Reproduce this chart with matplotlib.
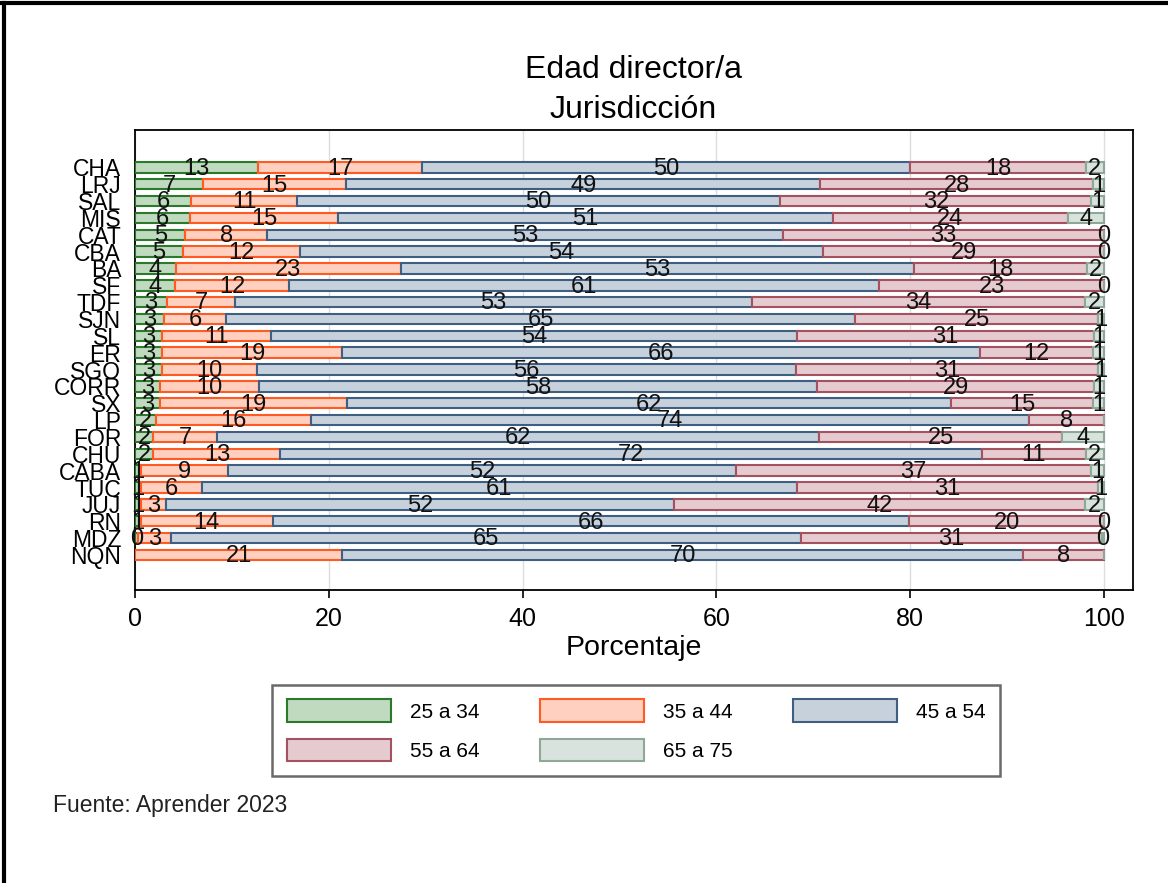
import numpy as np
import matplotlib
matplotlib.use("Agg")
import matplotlib.pyplot as plt
from matplotlib.patches import Patch
from matplotlib.lines import Line2D

plt.rcParams['font.family'] = ['Liberation Sans', 'DejaVu Sans']

nan = np.nan

jurisdicciones = ['CHA', 'LRJ', 'SAL', 'MIS', 'CAT', 'CBA', 'BA', 'SF', 'TDF', 'SJN',
                  'SL', 'ER', 'SGO', 'CORR', 'SX', 'LP', 'FOR', 'CHU', 'CABA', 'TUC',
                  'JUJ', 'RN', 'MDZ', 'NQN']

grupos = ['25 a 34', '35 a 44', '45 a 54', '55 a 64', '65 a 75']

e25_34 = [12.7, 7.0, 5.8, 5.7, 5.2, 4.9, 4.2, 4.1, 3.3, 3.0, 2.8, 2.8, 2.8, 2.6,
          2.6, 2.2, 1.9, 1.9, 0.6, 0.6, 0.6, 0.6, 0.3, nan]
e35_44 = [16.9, 14.8, 10.9, 15.2, 8.4, 12.1, 23.2, 11.8, 7.0, 6.4, 11.2, 18.6, 9.8,
          10.2, 19.3, 16.0, 6.6, 13.1, 9.0, 6.3, 2.6, 13.6, 3.4, 21.4]
e45_54 = [50.4, 48.9, 49.9, 51.1, 53.3, 54.0, 53.0, 60.9, 53.4, 64.9, 54.3, 65.8,
          55.6, 57.6, 62.3, 74.1, 62.1, 72.4, 52.4, 61.4, 52.4, 65.7, 65.0, 70.2]
e55_64 = [18.1, 28.2, 32.1, 24.3, 33.1, 29.0, 17.8, 23.2, 34.3, 25.1, 30.7, 11.7,
          31.2, 28.6, 14.7, 7.7, 25.1, 10.7, 36.7, 31.1, 42.4, 20.1, 31.1, 8.4]
e65_75 = [1.9, 1.1, 1.3, 3.7, 0.0, 0.0, 1.8, 0.0, 2.0, 0.6, 1.0, 1.1, 0.6, 1.0,
          1.1, nan, 4.3, 1.9, 1.3, 0.6, 2.0, 0.0, 0.2, nan]

rellenos = ['#c0dac0', '#ffd0bf', '#c7d1dc', '#e5cbd0', '#d9e3de']
bordes = ['#2b7a2b', '#ff5a22', '#3e5e82', '#a55260', '#8ea897']


def main():
    series = [e25_34, e35_44, e45_54, e55_64, e65_75]
    y = np.arange(len(jurisdicciones))

    fig = plt.figure(figsize=(11.68, 8.83), dpi=100)
    ax = fig.add_axes([0.1156, 0.332, 0.8545, 0.5205])

    left = np.zeros(len(jurisdicciones))
    for vals, fc, ec in zip(series, rellenos, bordes):
        vals = np.array(vals, dtype=float)
        w = np.nan_to_num(vals)
        ax.barh(y, w, left=left, height=0.62, color=fc, edgecolor=ec,
                linewidth=1.5, zorder=3)
        # etiquetas centradas en cada segmento
        for yi, v, l in zip(y, vals, left):
            if np.isnan(v):
                continue
            ax.text(l + v / 2, yi + 0.08, f"{v:.0f}", ha='center', va='center',
                    fontsize=17, color='#111111', zorder=4)
        left = left + w

    ax.set_yticks(y)
    ax.set_yticklabels(jurisdicciones, fontsize=16.5)
    ax.set_ylim(len(jurisdicciones) - 1 + 2.07, -2.2)
    ax.tick_params(axis='y', length=0, pad=10)

    ax.set_xlim(0, 103)
    ax.set_xticks(range(0, 101, 20))
    ax.tick_params(axis='x', labelsize=18, length=6, width=1.2, pad=6)
    ax.set_xlabel("Porcentaje", fontsize=20.5, labelpad=3)
    ax.grid(axis='x', color='#dddddd', linewidth=1, zorder=0)
    for s in ax.spines.values():
        s.set_linewidth(1.3)

    fig.text(0.5425, 0.921, "Edad director/a", ha='center', va='center', fontsize=23)
    fig.text(0.5425, 0.875, "Jurisdicción", ha='center', va='center', fontsize=23)

    handles = [Patch(facecolor=fc, edgecolor=ec, linewidth=1.5)
               for fc, ec in zip(rellenos, bordes)]
    orden = [0, 3, 1, 4, 2]
    leg = fig.legend([handles[i] for i in orden], [grupos[i] for i in orden],
                     loc='center', bbox_to_anchor=(0.5445, 0.173), ncol=3,
                     fontsize=15, handlelength=5.0, handleheight=1.3,
                     handletextpad=0.9, columnspacing=2.9, labelspacing=0.8,
                     borderpad=0.7, frameon=True, fancybox=False)
    leg.get_frame().set_edgecolor('#444444')
    leg.get_frame().set_linewidth(1.8)

    fig.text(0.045, 0.088, "Fuente: Aprender 2023", fontsize=16.5, color='#222222',
             va='center')

    # marco exterior
    fig.add_artist(Line2D([0.003, 0.003], [0, 0.9965], color='black', linewidth=3,
                          transform=fig.transFigure))
    fig.add_artist(Line2D([0.0, 1.0], [0.9965, 0.9965], color='black', linewidth=3,
                          transform=fig.transFigure))

    fig.savefig("out.png", dpi=100)


if __name__ == "__main__":
    main()
